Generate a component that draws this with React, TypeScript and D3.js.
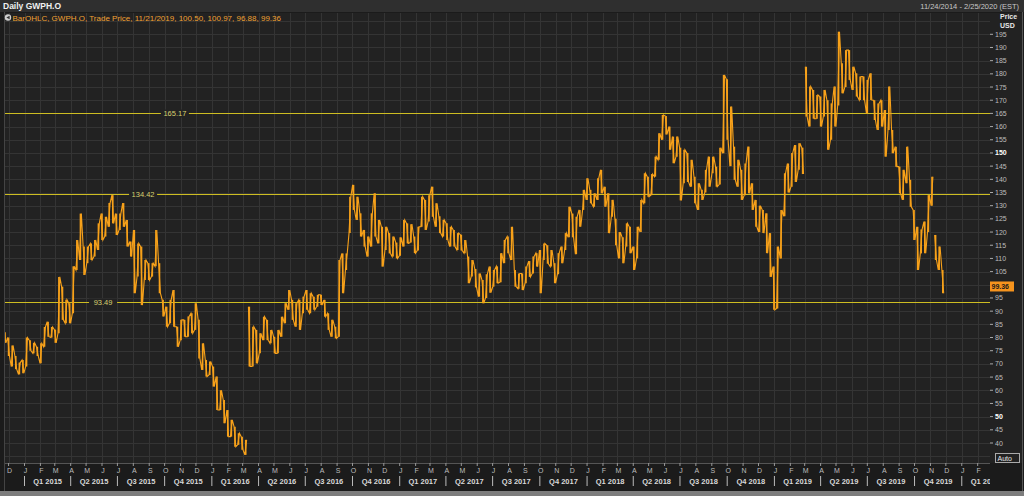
import React from 'react';
import * as d3 from 'd3';

// weekly ranges, first week starts 11/24/2014
const weekHigh = [
  82, 80, 77, 73, 70.5, 71.5, 80, 79, 78, 76.5, 77.8, 84, 86, 84, 83, 103, 99.3, 94.3, 93, 107,
  117, 127, 114.5, 114.5, 115.7, 117, 123.3, 127, 125.8, 131, 134, 127, 127, 131, 124.6, 116.4, 120.8, 115.7, 114.5, 109.4,
  108.2, 108.2, 120.8, 108.2, 94.3, 91.7, 94.3, 98, 84.1, 86.7, 86.7, 88, 89.2, 93, 86.7, 77.8, 71.5, 70.9, 69, 65.2,
  60, 56.3, 52.5, 48.8, 46.2, 43.7, 42.4, 41.2, 91.7, 84.1, 82.9, 81.6, 87.9, 86.7, 82.9, 80.3, 82.9, 87.9, 93, 98,
  94.3, 93, 94.3, 95.5, 98, 96.8, 95.5, 96.2, 96.2, 94.3, 89.2, 86.7, 84.1, 109.4, 111.9, 111.9, 133.4, 137.9, 133.4, 127.1,
  120.8, 118.3, 127.1, 134.7, 124.6, 122, 122, 119.6, 118.3, 116, 118, 124.6, 123.3, 123, 118.3, 122, 133.4, 132.2, 134, 137.2,
  130.9, 126, 124.6, 123.3, 122, 120.8, 119.6, 119, 117, 110.7, 109.4, 106, 104.3, 101.8, 104, 106.9, 105.6, 107, 112, 117,
  118.3, 122, 105.6, 104.3, 104.3, 106.9, 109, 110.7, 112, 113.2, 115.7, 115, 113.2, 108.2, 112, 114.5, 119.6, 129.6, 127, 125.8,
  128.4, 136, 140.4, 136, 134.7, 140.4, 143.6, 137.2, 134.7, 132.2, 125, 120, 118, 123.3, 122, 114.5, 122, 132.2, 142.3, 141,
  142, 148.6, 157.5, 164.4, 164, 160, 156.2, 156.2, 152, 151.2, 150, 147.4, 141, 138.5, 136, 143.6, 148.6, 148.6, 144.8, 152,
  179.6, 178, 167.6, 152.4, 147.4, 143.6, 146, 152.4, 138.5, 132.2, 130, 128.4, 127.1, 119.6, 106.9, 114.5, 128.4, 142.3, 146, 150,
  153, 153.7, 152, 182.7, 175.2, 173.9, 172, 171.4, 173.9, 170, 168.8, 175.2, 196, 184, 189, 189, 182.7, 180.2, 179, 179,
  177.7, 180.2, 170, 168.8, 170, 166.3, 175.2, 158.7, 152.4, 144.8, 143.6, 152.4, 139.8, 128.4, 122, 121, 124, 134, 141, 118.9,
  114.5, 105.6
];
const weekLow = [
  78, 73, 69, 68, 66, 66.5, 69, 75, 74, 73, 70.2, 76.5, 80.3, 80, 78, 81.6, 86.7, 85.4, 85.4, 89.2,
  105.6, 109.4, 103.7, 108.2, 109.4, 110.7, 113.2, 117, 118.3, 122, 123.3, 118.9, 120.8, 122, 114.5, 110.7, 96.8, 103.1, 92.3, 101.8,
  101.8, 103.1, 107, 96.8, 88, 84.1, 85.4, 84.1, 76.5, 79, 80.3, 80.3, 81.6, 82.9, 72, 67.7, 65.2, 65.8, 61.4, 52.5,
  52.5, 47.5, 42.4, 42.4, 38.6, 39.3, 37.4, 35.5, 69, 69, 70.2, 74, 79, 79, 77.8, 74, 74, 80.3, 85.4, 90.5,
  86.7, 84.1, 82.9, 89.2, 90.5, 89.2, 90.5, 91.7, 92.3, 87.9, 82.9, 80.3, 79.7, 80.3, 96.8, 105.6, 119.6, 128.4, 124.6, 118.3,
  114.5, 110.7, 114.5, 118.3, 115.7, 106.9, 113.2, 111.9, 110.7, 110, 111, 114.5, 115.7, 116, 112, 113, 122, 120.8, 124, 125.8,
  122, 119.6, 118.3, 117, 114.5, 114.5, 113.2, 113, 112, 100.6, 103.1, 99, 95.5, 93, 95, 97, 99.3, 100.6, 101, 108.2,
  112, 109.4, 99.3, 98.5, 98, 100.6, 103, 104.3, 106.9, 96.8, 109.4, 108, 106.9, 100.6, 104, 108.2, 113.2, 118, 118, 111.6,
  122, 128.4, 132.2, 130.9, 129.6, 132.2, 134.7, 129.6, 119.6, 125.8, 115, 110, 108.2, 114.5, 112, 105.6, 110, 120, 130.9, 133.4,
  134, 141, 147.4, 155, 157, 151.2, 146.1, 148.6, 132, 138.5, 139, 137.2, 130.9, 128.4, 132.2, 135, 137.2, 142.3, 137.2, 138,
  149.9, 155, 145, 139.8, 137.2, 132.2, 134, 134.7, 128.4, 122, 120, 119.6, 112, 103, 90.5, 91, 110, 126, 135, 137.2,
  139, 143.6, 142, 163.8, 160, 163, 163, 160, 163.8, 151.2, 155, 160, 168, 172.6, 175, 177.7, 173.9, 171.4, 170.1, 170,
  165, 170.1, 162.5, 158.7, 160, 148.6, 158.7, 149.9, 144.8, 134.7, 132.2, 138.5, 129.6, 117, 105.6, 111.9, 112, 120, 130, 109.4,
  105.6, 96.8
];

const levels = [165.17, 134.42, 93.49];
const levelLabels = ['165.17', '134.42', '93.49'];
const lastPrice = 99.36;
const legendText = 'BarOHLC, GWPH.O, Trade Price,  11/21/2019,  100.50,  100.97,  96.88,  99.36';

const startDate = new Date(2014, 10, 24);
const endDate = new Date(2020, 1, 25);

const plotL = 5, plotR = 990, plotT = 13, plotB = 463;
const font = '"Liberation Sans", Arial, sans-serif';

const x = d3.scaleTime().domain([startDate, endDate]).range([plotL, plotR]);
const y = d3.scaleLinear().domain([40, 195]).range([443, 34.3]);

// level labels sit at these dates along their lines
const levelLabelAt = [new Date(2015, 9, 21), new Date(2015, 7, 20), new Date(2015, 5, 3)];

type Pt = [number, number];

function buildSegments() {
  const segs: Pt[][] = [];
  let cur: Pt[] = [];
  let last: number | null = null;
  let prevHi = 0, prevLo = 0;
  weekHigh.forEach((hi, i) => {
    const lo = weekLow[i];
    const cx = x(d3.timeDay.offset(startDate, i * 7));
    if (i > 0 && (lo > prevHi + 10 || hi < prevLo - 10)) {
      segs.push(cur);
      cur = [];
      last = null;
    }
    const hiFirst = last === null ? true : Math.abs(last - hi) < Math.abs(last - lo);
    const a = hiFirst ? hi : lo;
    const b = hiFirst ? lo : hi;
    cur.push([cx - 0.9, y(a)], [cx + 0.9, y(b)]);
    last = b;
    prevHi = hi;
    prevLo = lo;
  });
  segs.push(cur);
  return segs;
}

const App: React.FC = () => {
  const line = d3.line<Pt>().x(d => d[0]).y(d => d[1]);
  const segments = buildSegments();

  const months = d3.timeMonth.range(new Date(2014, 11, 1), new Date(2020, 2, 1));
  const quarters = d3.timeMonth.every(3)!.range(new Date(2015, 0, 1), new Date(2020, 3, 1));
  const gridValues = d3.range(35, 205, 5);
  const tickValues = d3.range(40, 200, 5);
  const yLast = y(lastPrice);

  return (
    <div style={{ position: 'absolute', left: 0, top: 0 }}>
      <svg width={1024} height={496} style={{ display: 'block', fontFamily: font }}>
        <defs>
          <clipPath id="plotClip">
            <rect x={plotL} y={plotT} width={plotR - plotL} height={plotB - plotT} />
          </clipPath>
          <clipPath id="axisClip">
            <rect x={plotL} y={plotB} width={plotR - plotL} height={30} />
          </clipPath>
        </defs>

        <rect width={1024} height={496} fill="#1b1b1b" />
        <rect x={0} y={0} width={1024} height={12} fill="#2f2f2f" />
        <rect x={plotL} y={plotT} width={plotR - plotL} height={plotB - plotT} fill="#222222" />
        <rect x={plotR} y={plotT} width={1022 - plotR} height={plotB - plotT} fill="#222222" />
        <rect x={0} y={491} width={1024} height={5} fill="#7d7d7d" />
        <line x1={1022.5} x2={1022.5} y1={12} y2={491} stroke="#555" />
        <line x1={4.5} x2={4.5} y1={12} y2={491} stroke="#444" />

        <text x={3} y={9} fill="#f0f0f0" fontSize={8.5} fontWeight="bold">Daily GWPH.O</text>
        <text x={1019} y={9} fill="#c8c8c8" fontSize={7.5} textAnchor="end">11/24/2014 - 2/25/2020 (EST)</text>

        {/* grid */}
        <g clipPath="url(#plotClip)">
          {gridValues.map(v => (
            <line key={'h' + v} x1={plotL} x2={plotR} y1={Math.round(y(v)) + 0.5} y2={Math.round(y(v)) + 0.5} stroke="#343434" />
          ))}
          {months.map(m => (
            <line key={'v' + m.getTime()} x1={Math.round(x(m)) + 0.5} x2={Math.round(x(m)) + 0.5} y1={plotT} y2={plotB} stroke="#343434" />
          ))}
        </g>

        {/* legend */}
        <circle cx={8} cy={17.5} r={3.2} fill="#cfcfcf" />
        <path d="M6.3,17.5 L9.6,15.7 L9.6,19.3 Z" fill="#333" />
        <text x={12.5} y={20.5} fill="#f0a132" fontSize={8}>{legendText}</text>

        {/* levels */}
        {levels.map((v, i) => {
          const lx = x(levelLabelAt[i]);
          const ly = Math.round(y(v)) + 0.5;
          return (
            <g key={'lv' + v}>
              <line x1={plotL} x2={plotR} y1={ly} y2={ly} stroke="#cdbd22" strokeWidth={1} />
              <rect x={lx - 14} y={ly - 4} width={28} height={8} fill="#222222" />
              <text x={lx} y={ly + 2.5} fill="#d8d070" fontSize={7.5} textAnchor="middle">{levelLabels[i]}</text>
            </g>
          );
        })}

        {/* price */}
        <g clipPath="url(#plotClip)" stroke="#f7a11a">
          {weekHigh.map((hi, i) => {
            const cx = x(d3.timeDay.offset(startDate, i * 7));
            return <line key={'b' + i} x1={cx} x2={cx} y1={y(hi)} y2={y(weekLow[i])} strokeWidth={1.6} />;
          })}
          {segments.map((s, i) => (
            <path key={'s' + i} d={line(s) || ''} fill="none" strokeWidth={1.1} />
          ))}
        </g>

        {/* right axis */}
        <text x={1000} y={19} fill="#e8e8e8" fontSize={7} fontWeight="bold">Price</text>
        <text x={1000} y={28} fill="#e8e8e8" fontSize={7} fontWeight="bold">USD</text>
        {tickValues.map(v => (
          <g key={'t' + v}>
            <line x1={plotR} x2={plotR + 3} y1={y(v)} y2={y(v)} stroke="#aaa" />
            {Math.abs(y(v) - yLast) > 7 && (
              <text x={plotR + 5} y={y(v) + 2.5} fill={v % 50 === 0 ? '#ffffff' : '#bdbdbd'} fontWeight={v % 50 === 0 ? 'bold' : 'normal'} fontSize={7}>{v}</text>
            )}
          </g>
        ))}
        <rect x={plotR} y={yLast - 5} width={24} height={10} fill="#f7941d" />
        <text x={plotR + 1.5} y={yLast + 2.5} fill="#1b1b1b" fontSize={7} fontWeight="bold">{lastPrice.toFixed(2)}</text>
        <rect x={995.5} y={453.5} width={24} height={9} fill="none" stroke="#aaa" />
        <text x={997.5} y={460.5} fill="#e8e8e8" fontSize={7}>Auto</text>

        {/* bottom axis */}
        <line x1={plotL} x2={plotR} y1={plotB + 0.5} y2={plotB + 0.5} stroke="#555" />
        {months.map(m => (
          <g key={'m' + m.getTime()}>
            <line x1={x(m)} x2={x(m)} y1={plotB} y2={plotB + 3} stroke="#999" />
            <text x={x(m) + 1} y={plotB + 10} fill="#bdbdbd" fontSize={7} textAnchor="middle">{d3.timeFormat('%b')(m).charAt(0)}</text>
          </g>
        ))}
        <g clipPath="url(#axisClip)">
          {quarters.map(q => {
            const next = d3.timeMonth.offset(q, 3);
            const cx = (x(q) + x(next)) / 2;
            const label = `Q${Math.floor(q.getMonth() / 3) + 1} ${q.getFullYear()}`;
            return (
              <g key={'q' + q.getTime()}>
                <line x1={x(q)} x2={x(q)} y1={plotB + 13} y2={plotB + 23} stroke="#bbb" />
                <text x={cx} y={plotB + 21} fill="#d8d8d8" fontSize={7.5} fontWeight="bold" textAnchor="middle">{label}</text>
              </g>
            );
          })}
        </g>
      </svg>
    </div>
  );
};

export default App;
